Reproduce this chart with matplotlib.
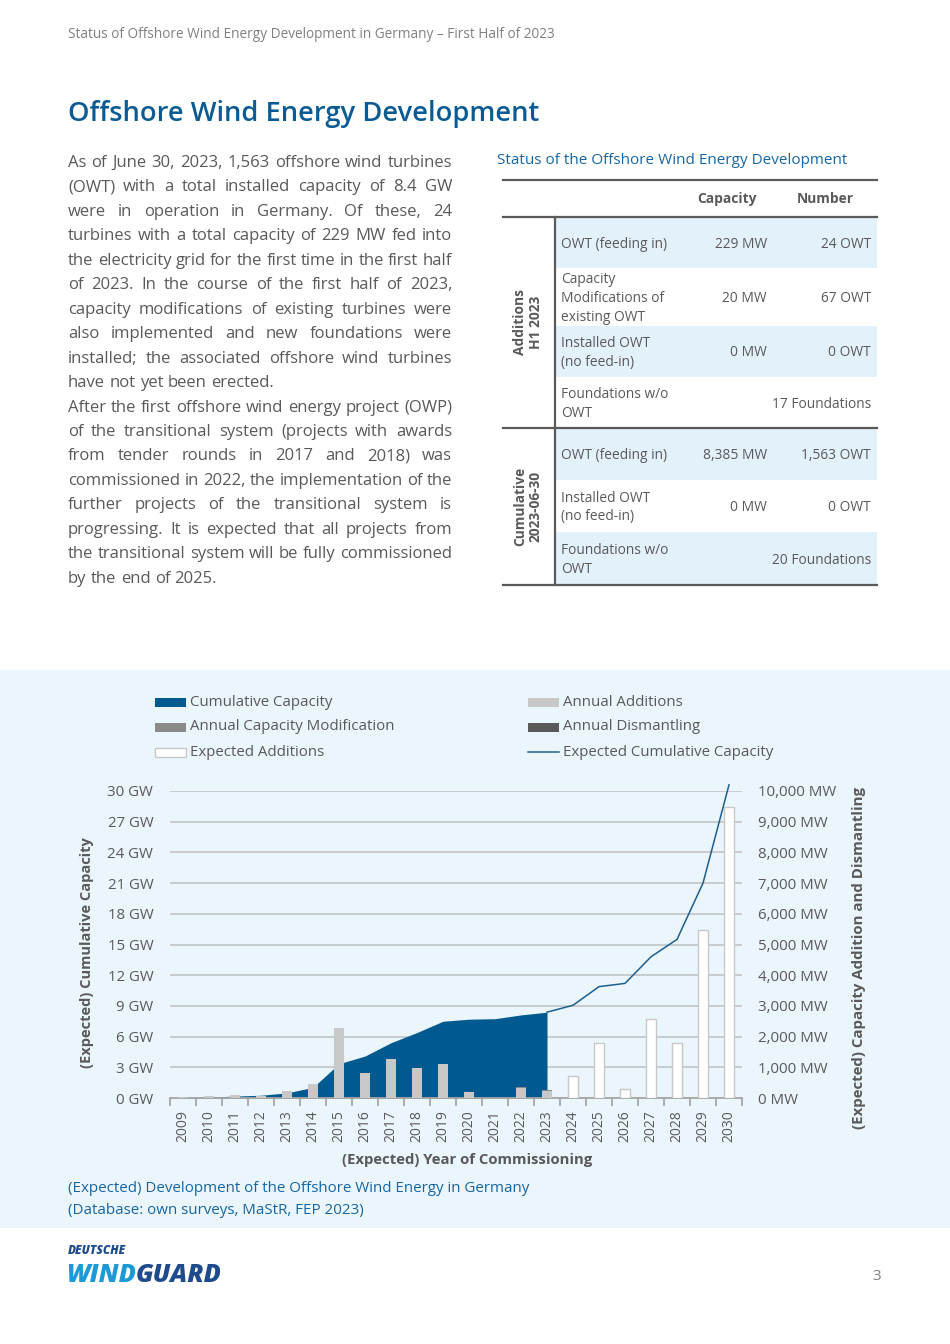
import matplotlib
matplotlib.use('Agg')
import matplotlib.pyplot as plt
from matplotlib.patches import Rectangle
from matplotlib.lines import Line2D
from matplotlib.ticker import FuncFormatter, FixedLocator
import numpy as np

# ---------------- data ----------------
years = list(range(2009, 2031))
hist_years = list(range(2009, 2024))
cumulative_gw = [0.035, 0.08, 0.19, 0.27, 0.5, 1.04, 3.35, 4.1, 5.4, 6.4, 7.5, 7.7, 7.75, 8.12, 8.385]
annual_additions_mw = [35, 50, 110, 80, 230, 460, 2270, 810, 1260, 970, 1100, 210, 0, 330, 230]
annual_modification_mw = [0, 0, 0, 0, 0, 0, 15, 0, 20, 0, 0, 0, 0, 15, 20]
annual_dismantling_mw = [0] * 15
exp_years = list(range(2024, 2031))
expected_additions_mw = [720, 1780, 280, 2560, 1780, 5470, 9470]
line_years = list(range(2023, 2031))
expected_cumulative_gw = [8.385, 9.06, 10.88, 11.2, 13.8, 15.5, 21.0, 30.6]
gw_ticks = list(range(0, 31, 3))
mw_ticks = list(range(0, 10001, 1000))

legend_labels = ["Cumulative Capacity", "Annual Capacity Modification", "Expected Additions",
                 "Annual Additions", "Annual Dismantling", "Expected Cumulative Capacity"]

paragraph = [
    ("As of June 30, 2023, 1,563 offshore wind turbines", True),
    ("(OWT) with a total installed capacity of 8.4 GW", True),
    ("were in operation in Germany. Of these, 24", True),
    ("turbines with a total capacity of 229 MW fed into", True),
    ("the electricity grid for the first time in the first half", True),
    ("of 2023. In the course of the first half of 2023,", True),
    ("capacity modifications of existing turbines were", True),
    ("also implemented and new foundations were", True),
    ("installed; the associated offshore wind turbines", True),
    ("have not yet been erected.", False),
    ("After the first offshore wind energy project (OWP)", True),
    ("of the transitional system (projects with awards", True),
    ("from tender rounds in 2017 and 2018) was", True),
    ("commissioned in 2022, the implementation of the", True),
    ("further projects of the transitional system is", True),
    ("progressing. It is expected that all projects from", True),
    ("the transitional system will be fully commissioned", True),
    ("by the end of 2025.", False),
]

table_rows = [
    ("OWT (feeding in)", "229 MW", "24 OWT"),
    ("Capacity\nModifications of\nexisting OWT", "20 MW", "67 OWT"),
    ("Installed OWT\n(no feed-in)", "0 MW", "0 OWT"),
    ("Foundations w/o\nOWT", "", "17 Foundations"),
    ("OWT (feeding in)", "8,385 MW", "1,563 OWT"),
    ("Installed OWT\n(no feed-in)", "0 MW", "0 OWT"),
    ("Foundations w/o\nOWT", "", "20 Foundations"),
]

# ---------------- setup ----------------
W, H = 950, 1344
plt.rcParams['font.family'] = ['Open Sans', 'DejaVu Sans']
fig = plt.figure(figsize=(W / 100, H / 100), dpi=100)
fig.patch.set_facecolor('white')
R = fig.canvas.get_renderer()

GRAY_TXT = '#595959'
BLUE_TITLE = '#0a5b93'
BLUE_CAP = '#1766a3'
PANEL = '#eaf5fc'
SHADE = '#e3f1fb'
AREA = '#00598f'
LINEC = '#1f5f8c'


def P(x, y):
    return (x / W, 1 - y / H)


def ftext(x, y, s, **kw):
    return fig.text(*P(x, y), s, **kw)


def width(t):
    return t.get_window_extent(R).width


def fit(t, target):
    t.set_fontsize(t.get_fontsize() * target / width(t))


def rect(x0, y0, x1, y1, **kw):
    r = Rectangle(P(x0, y1), (x1 - x0) / W, (y1 - y0) / H, transform=fig.transFigure, **kw)
    fig.add_artist(r)
    return r


def hline(x0, x1, y, **kw):
    fig.add_artist(Line2D([x0 / W, x1 / W], [1 - y / H, 1 - y / H], transform=fig.transFigure, **kw))


def vline(x, y0, y1, **kw):
    fig.add_artist(Line2D([x / W, x / W], [1 - y0 / H, 1 - y1 / H], transform=fig.transFigure, **kw))


# ---------------- header / title ----------------
t = ftext(68, 38, "Status of Offshore Wind Energy Development in Germany \u2013 First Half of 2023",
          fontsize=10, color='#808080', va='baseline')
fit(t, 555 - 68)
t = ftext(68, 121, "Offshore Wind Energy Development", fontsize=20, color=BLUE_TITLE,
          fontweight='semibold', va='baseline')
fit(t, 538 - 68)

# ---------------- paragraph (justified) ----------------
ref = ftext(0, 0, "have not yet been erected.", fontsize=12)
fit(ref, 273 - 68)
pfs = ref.get_fontsize()
ref.remove()
a = ftext(0, 0, "x x", fontsize=pfs); b = ftext(0, 0, "xx", fontsize=pfs)
space = width(a) - width(b)
a.remove(); b.remove()
x0, x1 = 68, 452
for i, (line, just) in enumerate(paragraph):
    y = 167 + i * 24.45
    words = line.split(' ')
    ts = [ftext(0, y, w_, fontsize=pfs, color=GRAY_TXT, va='baseline') for w_ in words]
    ws = [width(t_) for t_ in ts]
    gap = (x1 - x0 - sum(ws)) / (len(words) - 1) if just else space
    x = x0
    for t_, w_ in zip(ts, ws):
        t_.set_position(P(x, y))
        x += w_ + gap

# ---------------- table ----------------
t = ftext(497, 160, "Status of the Offshore Wind Energy Development", fontsize=pfs,
          color=BLUE_CAP, va='center')
fit(t, 845 - 497)
tfs = 9.9
row_bounds = [217, 268, 326, 377, 428, 480, 532, 585]
shaded = [True, False, True, False, True, False, True]
for i, (lab, cap, num) in enumerate(table_rows):
    yt, yb = row_bounds[i], row_bounds[i + 1]
    if shaded[i]:
        rect(556, yt, 877, yb, facecolor=SHADE, edgecolor='none')
    yc = (yt + yb) / 2 + 1.5
    ftext(561, yc, lab, fontsize=tfs, color=GRAY_TXT, va='center', ha='left', linespacing=1.33)
    if cap:
        ftext(767, yc, cap, fontsize=tfs, color=GRAY_TXT, va='center', ha='right')
    ftext(871, yc, num, fontsize=tfs, color=GRAY_TXT, va='center', ha='right')
ftext(727, 199, "Capacity", fontsize=tfs, color=GRAY_TXT, va='center', ha='center', fontweight='bold')
ftext(825, 199, "Number", fontsize=tfs, color=GRAY_TXT, va='center', ha='center', fontweight='bold')
ftext(528, 322, "Additions\nH1 2023", fontsize=tfs, color=GRAY_TXT, va='center', ha='center',
      rotation=90, fontweight='bold', multialignment='center', linespacing=1.15)
ftext(528, 506, "Cumulative\n2023-06-30", fontsize=tfs, color=GRAY_TXT, va='center', ha='center',
      rotation=90, fontweight='bold', multialignment='center', linespacing=1.15)
for y in (180, 217, 428, 585):
    hline(503, 877, y, color='#5a5a5a', lw=1.6)
vline(555, 217, 585, color='#5a5a5a', lw=1.6)

# ---------------- chart panel ----------------
rect(0, 670, 950, 1228, facecolor=PANEL, edgecolor='none', zorder=-10)

ax = fig.add_axes([170 / W, 1 - 1098 / H, 572 / W, 307 / H])
ax.set_facecolor('none')
ax.fill_between(hist_years, 0, cumulative_gw, color=AREA, lw=0, zorder=2)
ax.set_xlim(2008.5, 2030.5)
ax.set_ylim(0, 30)
ax.yaxis.set_major_locator(FixedLocator(gw_ticks))
ax.yaxis.set_major_formatter(FuncFormatter(lambda v, p: f"{int(v)} GW"))
ax.grid(axis='y', color='#c6c8ca', lw=1.3, zorder=0)
ax.set_axisbelow(True)
for s in ('top', 'right', 'left'):
    ax.spines[s].set_visible(False)
ax.spines['bottom'].set_color('#a6a6a6')
ax.spines['bottom'].set_linewidth(1.3)
ax.tick_params(axis='y', length=0, pad=12, labelsize=10.8, labelcolor=GRAY_TXT)
ax.set_xticks(np.arange(2008.5, 2031.5, 1))
ax.set_xticklabels([])
ax.set_xticks(years, minor=True)
ax.set_xticklabels([str(y) for y in years], minor=True, rotation=90)
ax.tick_params(axis='x', which='major', length=6, color='#a6a6a6', width=1.3, direction='out')
ax.tick_params(axis='x', which='minor', length=0, pad=9, labelsize=10, labelcolor=GRAY_TXT)

ax2 = ax.twinx()
ax2.set_ylim(0, 10000)
ax2.bar(hist_years, annual_additions_mw, width=0.4, color='#c8c8c8', zorder=3)
ax2.bar(hist_years, annual_modification_mw, width=0.4, bottom=annual_additions_mw,
        color='#8a8a8a', zorder=3)
ax2.bar(hist_years, annual_dismantling_mw, width=0.4, color='#5a5a5a', zorder=3)
ax2.bar(exp_years, expected_additions_mw, width=0.4, facecolor='white', edgecolor='#c8c8c8',
        lw=1, zorder=3)
ax2.yaxis.set_major_locator(FixedLocator(mw_ticks))
ax2.yaxis.set_major_formatter(FuncFormatter(lambda v, p: f"{int(v):,} MW"))
ax2.tick_params(axis='y', length=0, pad=11.5, labelsize=10.8, labelcolor=GRAY_TXT)
for s in ax2.spines.values():
    s.set_visible(False)

ax3 = ax.twinx()
ax3.set_ylim(0, 30)
ax3.plot(line_years, expected_cumulative_gw, color=LINEC, lw=1.1, clip_on=False, zorder=4)
ax3.set_yticks([])
for s in ax3.spines.values():
    s.set_visible(False)

t = ftext(87, 953, "(Expected) Cumulative Capacity", fontsize=10.5, color=GRAY_TXT,
          fontweight='bold', rotation=90, ha='center', va='center')
t = ftext(859, 958, "(Expected) Capacity Addition and Dismantling", fontsize=10.8, color=GRAY_TXT,
          fontweight='bold', rotation=90, ha='center', va='center')
ftext(467, 1160, "(Expected) Year of Commissioning", fontsize=10.7, color=GRAY_TXT,
      fontweight='bold', ha='center', va='center')

# legend
leg_style = [
    dict(facecolor=AREA, edgecolor='none'),
    dict(facecolor='#8a8a8a', edgecolor='none'),
    dict(facecolor='white', edgecolor='#c8c8c8', lw=1),
    dict(facecolor='#c8c8c8', edgecolor='none'),
    dict(facecolor='#5a5a5a', edgecolor='none'),
    None,
]
for i, lab in enumerate(legend_labels):
    col, row = divmod(i, 3)
    px0 = 155 if col == 0 else 528
    yc = 702 + row * 25
    if leg_style[i] is None:
        hline(px0, px0 + 31, yc, color=LINEC, lw=1.1)
    else:
        rect(px0, yc - 4.5, px0 + 31, yc + 4.5, **leg_style[i])
    t = ftext(px0 + 35, yc, lab, fontsize=11, color=GRAY_TXT, va='center')
    if i == 5:
        lfs = 11 * (773 - 563) / width(t)
for t in fig.texts[-6:]:
    t.set_fontsize(lfs)

t = ftext(68, 1189, "(Expected) Development of the Offshore Wind Energy in Germany", fontsize=pfs,
          color=BLUE_CAP, va='center')
fit(t, 530 - 68)
cfs = t.get_fontsize()
ftext(68, 1210, "(Database: own surveys, MaStR, FEP 2023)", fontsize=cfs,
      color=BLUE_CAP, va='center')

# ---------------- footer ----------------
ftext(68, 1254, "DEUTSCHE", fontsize=8.5, color='#1e4b8c', fontweight='heavy', style='italic',
      va='baseline')
tw = ftext(66, 1282, "WIND", fontsize=18.2, color='#1b9ad7', fontweight='heavy', style='italic',
           va='baseline')
ftext(66 + width(tw), 1282, "GUARD", fontsize=18.2, color='#1e4b8c', fontweight='heavy',
      style='italic', va='baseline')
ftext(877, 1277, "3", fontsize=11, color='#7f7f7f', va='center', ha='center')

fig.savefig('out.png', dpi=100, facecolor='white')
